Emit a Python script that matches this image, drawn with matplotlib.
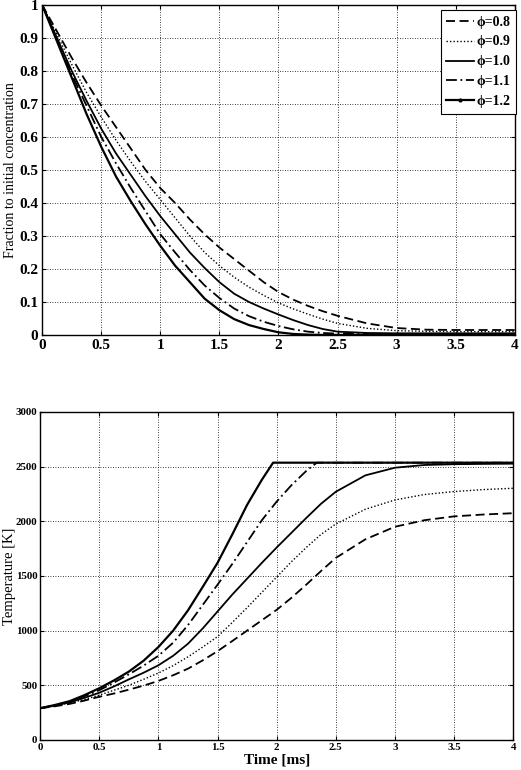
import numpy as np
import matplotlib
matplotlib.use('Agg')
import matplotlib.pyplot as plt

plt.rcParams['font.family'] = ['Liberation Serif', 'DejaVu Serif']

# upper panel: fraction to initial concentration vs time [ms]
t_frac = [0, 0.125, 0.25, 0.375, 0.5, 0.625, 0.75, 0.875, 1.0, 1.125, 1.25, 1.375, 1.5, 1.625,
          1.75, 1.875, 2.0, 2.125, 2.25, 2.375, 2.5, 2.75, 3.0, 3.25, 3.5, 3.75, 4.0]
frac_08 = [1.0, 0.92, 0.84, 0.765, 0.695, 0.63, 0.565, 0.50, 0.445, 0.40, 0.35, 0.305, 0.265, 0.23,
           0.195, 0.16, 0.13, 0.107, 0.088, 0.072, 0.058, 0.035, 0.021, 0.016, 0.015, 0.015, 0.015]
frac_09 = [1.0, 0.91, 0.82, 0.735, 0.66, 0.59, 0.525, 0.465, 0.41, 0.355, 0.30, 0.25, 0.21, 0.175,
           0.145, 0.12, 0.097, 0.079, 0.063, 0.048, 0.035, 0.02, 0.013, 0.011, 0.01, 0.01, 0.01]
frac_10 = [1.0, 0.90, 0.80, 0.71, 0.625, 0.55, 0.485, 0.42, 0.36, 0.305, 0.25, 0.203, 0.16, 0.125,
           0.10, 0.08, 0.062, 0.045, 0.03, 0.018, 0.01, 0.006, 0.005, 0.005, 0.005, 0.005, 0.005]
frac_11 = [1.0, 0.895, 0.79, 0.695, 0.60, 0.52, 0.445, 0.375, 0.305, 0.25, 0.197, 0.15, 0.112, 0.08,
           0.057, 0.04, 0.027, 0.017, 0.01, 0.006, 0.004, 0.003, 0.003, 0.003, 0.003, 0.003, 0.003]
frac_12 = [1.0, 0.89, 0.78, 0.67, 0.57, 0.48, 0.405, 0.335, 0.27, 0.21, 0.16, 0.11, 0.075, 0.048,
           0.03, 0.018, 0.008, 0.003, 0.001, 0.0, 0.0, 0.0, 0.0, 0.0, 0.0, 0.0, 0.0]

# lower panel: temperature [K] vs time [ms]
t_temp = t_frac
temp_08 = [290, 308, 330, 360, 395, 425, 460, 497, 540, 592, 652, 728, 812, 905,
           1000, 1095, 1190, 1300, 1420, 1545, 1665, 1835, 1950, 2010, 2045, 2062, 2074]
temp_09 = [290, 312, 338, 370, 410, 455, 500, 555, 612, 680, 760, 850, 945, 1075,
           1210, 1350, 1490, 1630, 1760, 1880, 1975, 2110, 2195, 2245, 2272, 2290, 2302]
temp_10 = [290, 315, 345, 385, 432, 490, 554, 615, 683, 770, 880, 1020, 1175, 1330,
           1475, 1620, 1760, 1895, 2030, 2160, 2270, 2420, 2490, 2515, 2522, 2525, 2527]
t_11 = [0, 0.125, 0.25, 0.375, 0.5, 0.625, 0.75, 0.875, 1.0, 1.125, 1.25, 1.375, 1.5, 1.625,
        1.75, 1.875, 2.0, 2.125, 2.25, 2.34, 2.5, 3.0, 3.5, 4.0]
temp_11 = [290, 318, 350, 400, 455, 525, 600, 680, 770, 890, 1050, 1235, 1420, 1610,
           1810, 2010, 2180, 2330, 2460, 2536, 2536, 2536, 2536, 2536]
t_12 = [0, 0.125, 0.25, 0.375, 0.5, 0.625, 0.75, 0.875, 1.0, 1.125, 1.25, 1.375, 1.5, 1.625,
        1.75, 1.875, 1.97, 2.5, 3.0, 3.5, 4.0]
temp_12 = [290, 320, 355, 410, 473, 545, 625, 725, 850, 1000, 1185, 1400, 1620, 1880,
           2150, 2380, 2536, 2536, 2536, 2536, 2536]

labels = ['\u03d5=0.8', '\u03d5=0.9', '\u03d5=1.0', '\u03d5=1.1', '\u03d5=1.2']
styles = [dict(ls=(0, (5, 2.5)), lw=1.3),
          dict(ls=(0, (1, 1.5)), lw=1.0),
          dict(ls='-', lw=1.3),
          dict(ls=(0, (6, 2, 1, 2)), lw=1.3),
          dict(ls='-', lw=1.6)]

fig = plt.figure(figsize=(5.21, 7.70), dpi=100)
ax1 = fig.add_axes([0.081, 0.565, 0.907, 0.4285])
ax2 = fig.add_axes([0.077, 0.039, 0.908, 0.426])

fracs = [frac_08, frac_09, frac_10, frac_11, frac_12]
for f, lab, st in zip(fracs, labels, styles):
    ax1.plot(t_frac, f, color='black', label=lab, **st)

temps = [(t_temp, temp_08), (t_temp, temp_09), (t_temp, temp_10), (t_11, temp_11), (t_12, temp_12)]
for (tt, T), st in zip(temps, styles):
    ax2.plot(tt, T, color='black', **st)

ax1.set_xlim(0, 4)
ax1.set_ylim(0, 1)
ax1.set_xticks(np.arange(0, 4.01, 0.5))
ax1.set_xticklabels(['0', '0.5', '1', '1.5', '2', '2.5', '3', '3.5', '4'])
ax1.set_yticks(np.arange(0, 1.01, 0.1))
ax1.set_yticklabels(['0', '0.1', '0.2', '0.3', '0.4', '0.5', '0.6', '0.7', '0.8', '0.9', '1'])
ax1.set_ylabel('Fraction to initial concentration', fontsize=10)
ax1.yaxis.set_label_coords(-0.053, 0.5)
ax1.tick_params(labelsize=11, direction='in', top=True, right=True, length=3, pad=3)
for lab in ax1.get_xticklabels() + ax1.get_yticklabels():
    lab.set_fontweight('bold')

leg = ax1.legend(loc='upper right', bbox_to_anchor=(1.002, 0.985),
                 prop={'weight': 'bold', 'size': 10},
                 handlelength=2.0, handletextpad=0.15, borderpad=0.4, labelspacing=0.5,
                 fancybox=False, framealpha=1, edgecolor='black', borderaxespad=0)
leg.get_frame().set_linewidth(0.8)
# the phi=1.2 legend line carries a small dot like the original
lh = leg.get_lines()[4]
lh.set_marker('.')
lh.set_markersize(4)
lh.set_markevery([1])

ax2.set_xlim(0, 4)
ax2.set_ylim(0, 3000)
ax2.set_xticks(np.arange(0, 4.01, 0.5))
ax2.set_xticklabels(['0', '0.5', '1', '1.5', '2', '2.5', '3', '3.5', '4'])
ax2.set_yticks(np.arange(0, 3001, 500))
ax2.set_xlabel('Time [ms]', fontsize=11, fontweight='bold', labelpad=1)
ax2.set_ylabel('Temperature [K]', fontsize=10.5)
ax2.yaxis.set_label_coords(-0.052, 0.5)
ax2.tick_params(labelsize=7.8, direction='in', top=True, right=True, length=3, pad=2)
for lab in ax2.get_xticklabels() + ax2.get_yticklabels():
    lab.set_fontweight('bold')

for ax in (ax1, ax2):
    ax.grid(True, color='black', linestyle=(0, (1, 2)), linewidth=0.6)
    for sp in ax.spines.values():
        sp.set_linewidth(1.0)

fig.savefig('out.png', dpi=100)
